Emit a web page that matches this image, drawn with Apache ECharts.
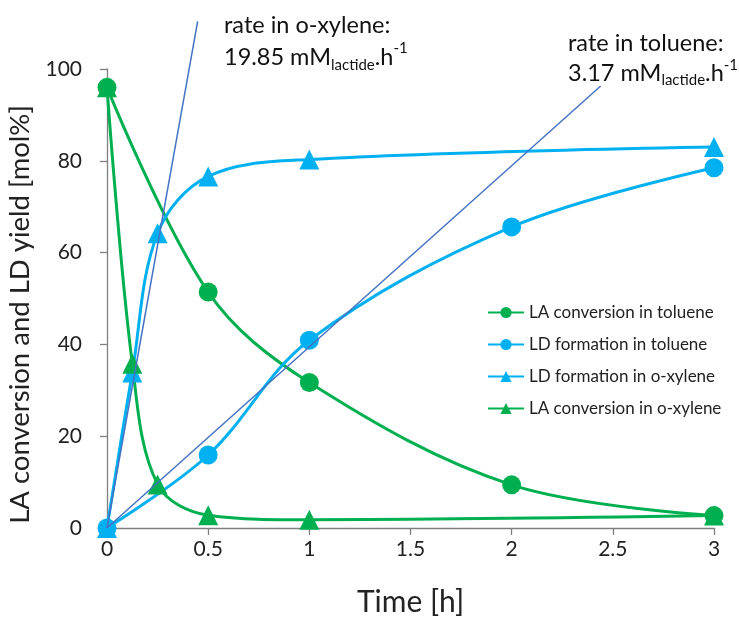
<!DOCTYPE html>
<html>
<head>
<meta charset="utf-8">
<style>
  html, body { margin: 0; padding: 0; background: #fff; }
  #chart { width: 739px; height: 619px; }
</style>
<script src="https://cdn.jsdelivr.net/npm/echarts@6/dist/echarts.min.js"></script>
</head>
<body>
<div id="chart"></div>
<script>
// Reaction time [h] for each sampling point
const timeToluene = [0, 0.5, 1, 2, 3];
const timeXylene = [0, 0.125, 0.25, 0.5, 1, 3];

// Lactic acid conversion and lactide yield [mol%]
const laConvToluene = [96, 51.4, 31.7, 9.4, 2.7];
const ldFormToluene = [0, 15.9, 40.9, 65.6, 78.5];
const ldFormXylene = [0, 33.9, 64.2, 76.6, 80.3, 83];
const laConvXylene = [96, 35.8, 9.5, 2.8, 1.8, 2.7];

// Initial-rate tangent lines (start and end points, [h, mol%])
const rateXylene = [[0, 0], [0.448, 110.4]];
const rateToluene = [[0, 0], [2.44, 96.3]];

const xTicks = { min: 0, max: 3, interval: 0.5 };
const yTicks = { min: 0, max: 100, interval: 20 };

const seriesNames = [
  'LA conversion in toluene',
  'LD formation in toluene',
  'LD formation in o-xylene',
  'LA conversion in o-xylene'
];

const GREEN = '#00B050';
const BLUE = '#00B0F0';
const RATE = '#4472C4';
const FONT = 'Lato, "Open Sans", sans-serif';

function pairs(xs, ys) { return xs.map((x, i) => [x, ys[i]]); }

function curve(name, xs, ys, color, symbol) {
  return {
    name, type: 'line', data: pairs(xs, ys),
    smooth: 0.35,
    symbol, symbolSize: symbol === 'circle' ? 19 : 20,
    lineStyle: { color, width: 3 },
    itemStyle: { color },
    z: 3
  };
}

const richParts = {
  sub: { fontSize: 15, verticalAlign: 'bottom', lineHeight: 14, fontFamily: FONT, fill: '#111' },
  sup: { fontSize: 15, verticalAlign: 'top', lineHeight: 14, fontFamily: FONT, fill: '#111' }
};

const chart = echarts.init(document.getElementById('chart'));
chart.setOption({
  animation: false,
  textStyle: { fontFamily: FONT },
  grid: {
    left: 107, right: 25, top: 69, bottom: 91,
    containLabel: false, outerBoundsMode: 'none'
  },
  xAxis: {
    type: 'value', min: xTicks.min, max: xTicks.max, interval: xTicks.interval,
    name: 'Time [h]', nameLocation: 'middle', nameGap: 59,
    nameTextStyle: { fontSize: 30, color: '#222', fontFamily: FONT },
    axisLine: { lineStyle: { color: '#7f7f7f', width: 1.3 } },
    axisTick: { show: true, length: 7, lineStyle: { color: '#7f7f7f', width: 1.3 } },
    axisLabel: { fontSize: 21, color: '#222', margin: 11, fontFamily: FONT },
    splitLine: { show: false }
  },
  yAxis: {
    type: 'value', min: yTicks.min, max: yTicks.max, interval: yTicks.interval,
    name: 'LA conversion and LD yield [mol%]', nameLocation: 'middle', nameGap: 61,
    nameTextStyle: { fontSize: 27.5, color: '#222', fontFamily: FONT, padding: [0, 32, 0, 0] },
    axisLine: { show: true, lineStyle: { color: '#7f7f7f', width: 1.3 } },
    axisTick: { show: true, length: 7, lineStyle: { color: '#7f7f7f', width: 1.3 } },
    axisLabel: { fontSize: 21, color: '#222', margin: 25, fontFamily: FONT },
    splitLine: { show: false }
  },
  legend: {
    data: seriesNames, orient: 'vertical', left: 482, top: 299, padding: 5,
    itemWidth: 36, itemHeight: 14, itemGap: 15,
    textStyle: { fontSize: 17, color: '#222', fontFamily: FONT }
  },
  series: [
    curve(seriesNames[0], timeToluene, laConvToluene, GREEN, 'circle'),
    curve(seriesNames[1], timeToluene, ldFormToluene, BLUE, 'circle'),
    curve(seriesNames[2], timeXylene, ldFormXylene, BLUE, 'triangle'),
    curve(seriesNames[3], timeXylene, laConvXylene, GREEN, 'triangle'),
    {
      name: 'rate o-xylene', type: 'line', data: rateXylene, symbol: 'none',
      clip: false, lineStyle: { color: RATE, width: 1.5 }, z: 5, silent: true
    },
    {
      name: 'rate toluene', type: 'line', data: rateToluene, symbol: 'none',
      clip: false, lineStyle: { color: RATE, width: 1.5 }, z: 5, silent: true
    }
  ],
  graphic: [
    {
      type: 'text', left: 224, top: 9,
      style: {
        text: 'rate in o-xylene:\n19.85 mM{sub|lactide}.h{sup|-1}',
        fontSize: 23.5, fontFamily: FONT, fill: '#111', lineHeight: 32,
        rich: richParts
      }
    },
    {
      type: 'text', left: 568, top: 28,
      style: {
        text: 'rate in toluene:\n3.17 mM{sub|lactide}.h{sup|-1}',
        fontSize: 23.5, fontFamily: FONT, fill: '#111', lineHeight: 30,
        rich: richParts
      }
    }
  ]
});
</script>
</body>
</html>
